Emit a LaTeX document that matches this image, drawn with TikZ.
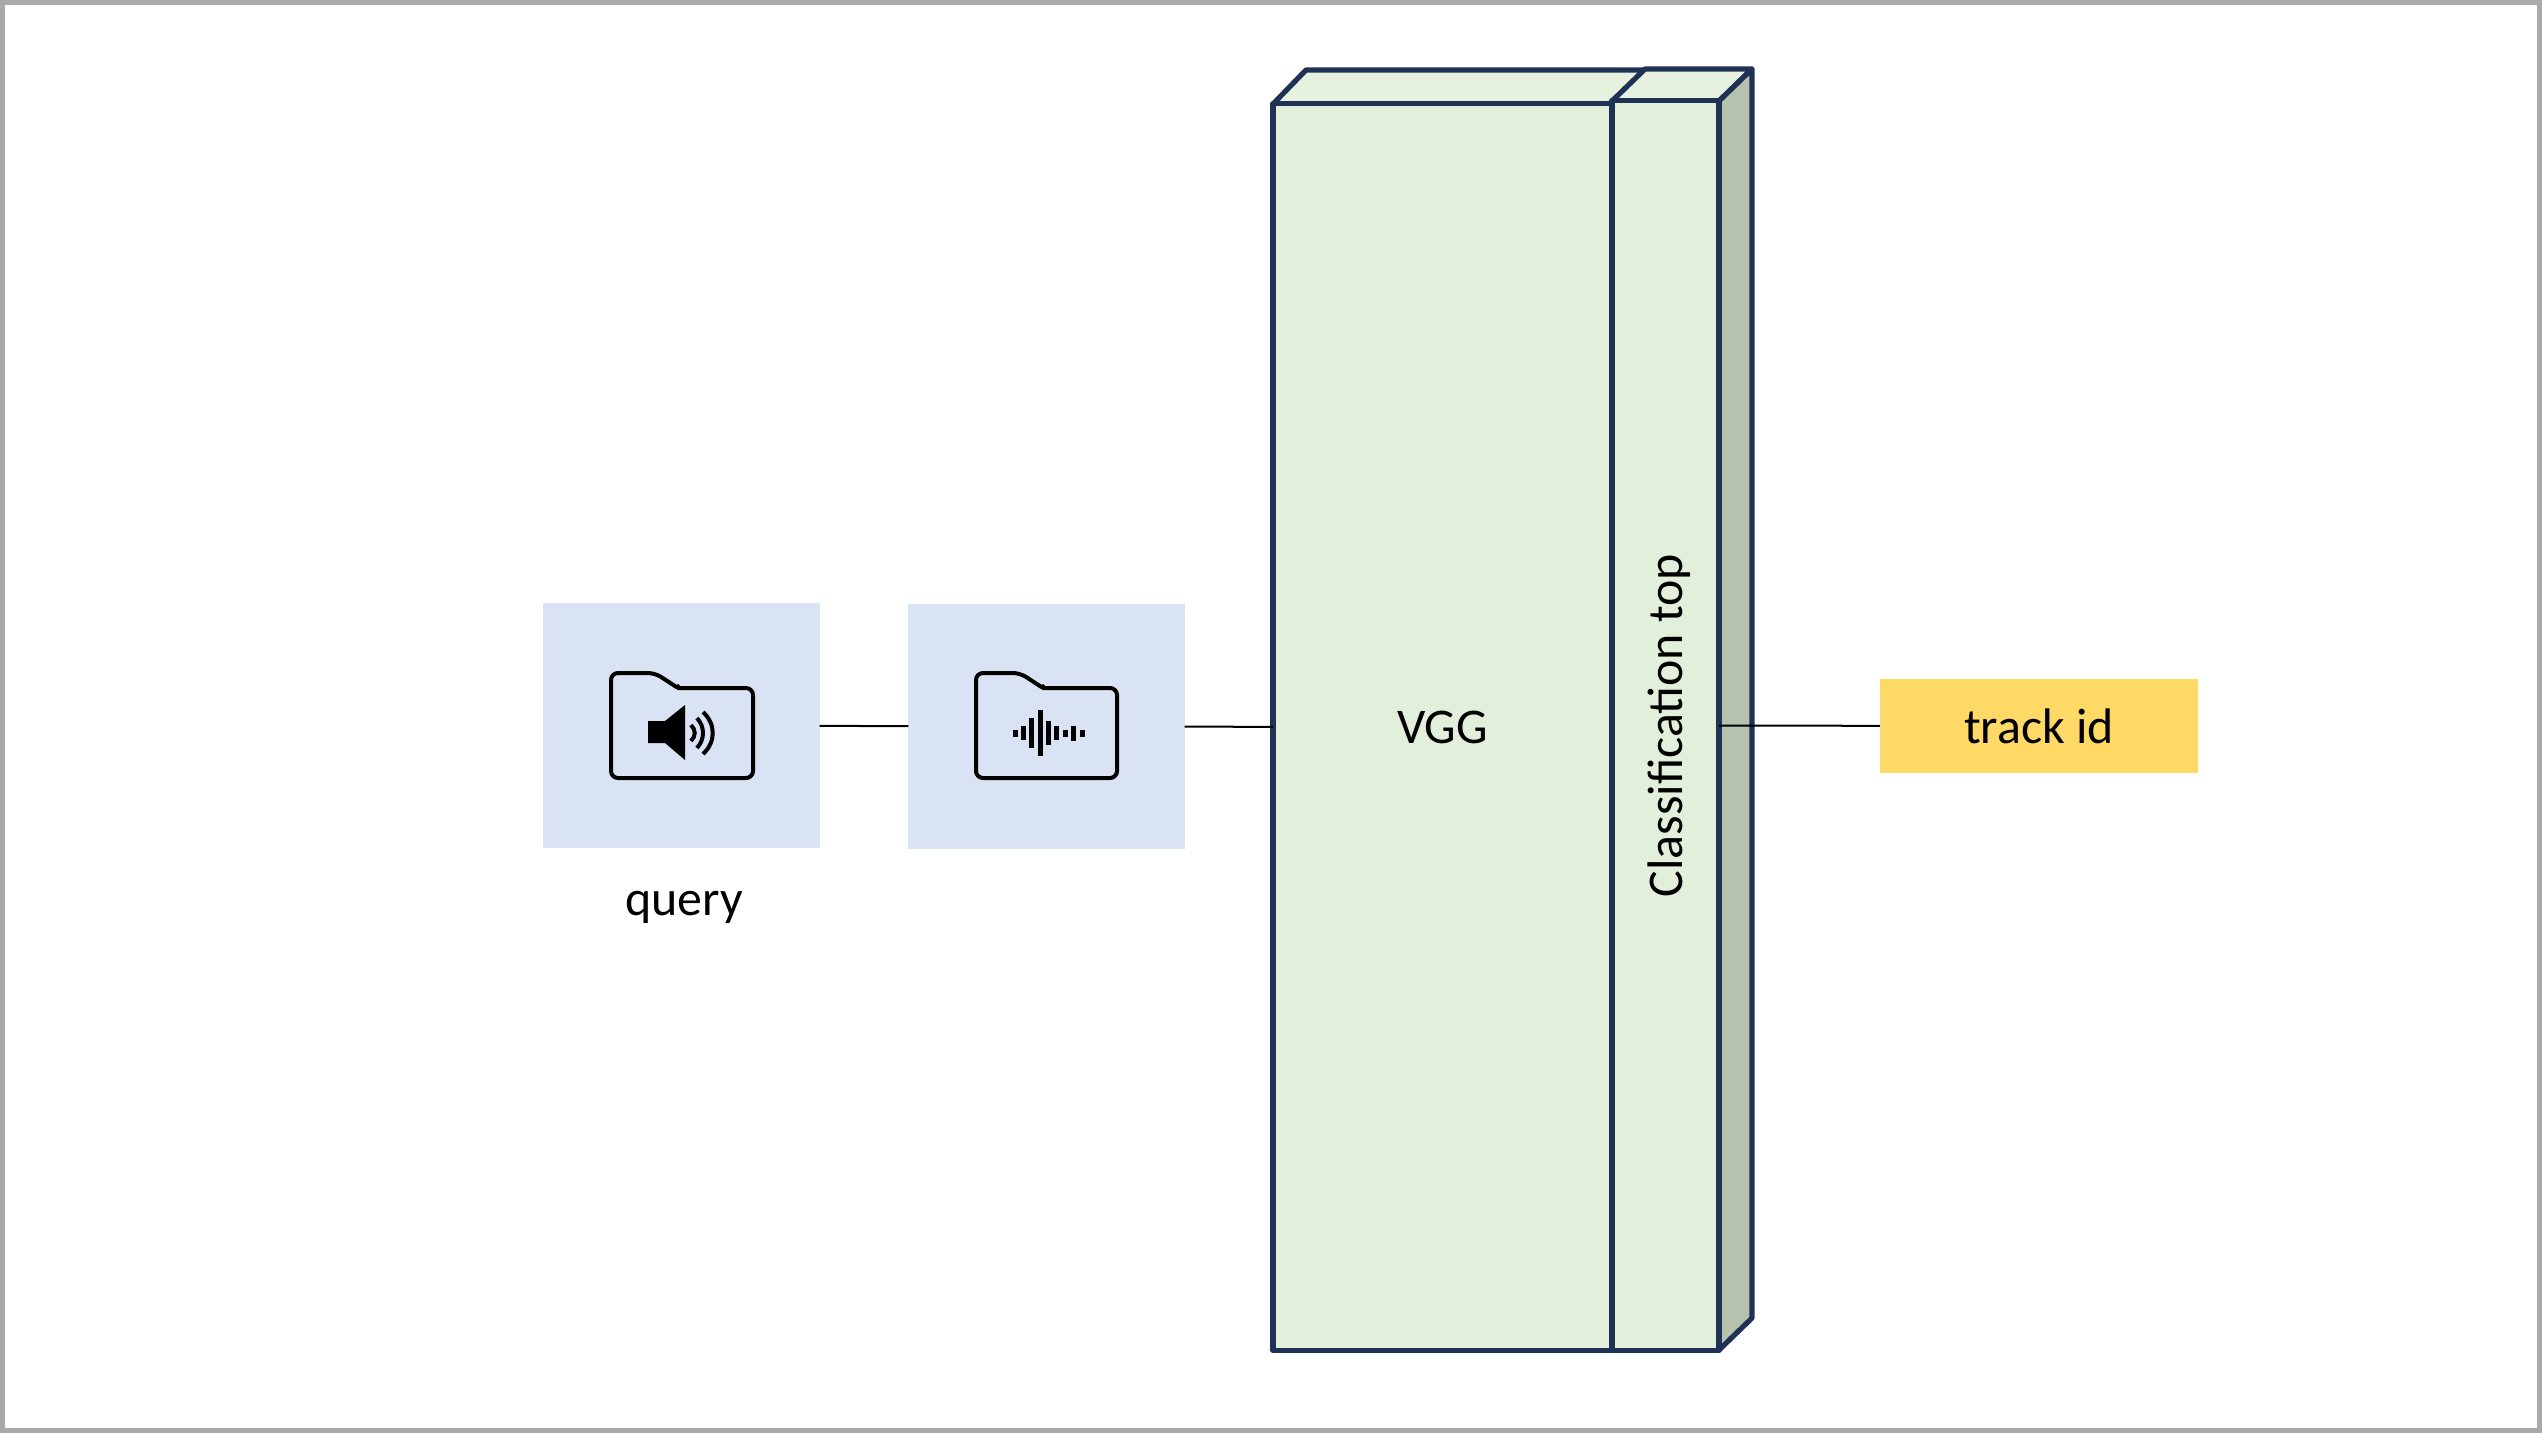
\documentclass[tikz,border=0pt]{standalone}
\usepackage{fontspec}
\setmainfont{Carlito}
\definecolor{boxblue}{HTML}{DAE3F3}
\definecolor{blockgreen}{HTML}{E2EFDA}
\definecolor{blocktop}{HTML}{E7F1DF}
\definecolor{blockside}{HTML}{B6C2AE}
\definecolor{blockline}{HTML}{1F3255}
\definecolor{idyellow}{HTML}{FFD966}
\definecolor{framegrey}{HTML}{A9A9A9}
\tikzset{
	inputbox/.style={fill=boxblue, minimum width=2.76cm, minimum height=2.45cm, inner sep=0pt, outer sep=0pt},
	blockface/.style={draw=blockline, line width=.052cm, line join=round, fill=blockgreen, minimum height=12.46cm, inner sep=0pt, outer sep=0pt},
	blockedge/.style={draw=blockline, line width=.052cm, line join=round},
	idbox/.style={fill=idyellow, minimum width=3.18cm, minimum height=.94cm, inner sep=0pt, outer sep=0pt},
	folder/.style={draw=black, line width=.04cm, line join=round},
	wavebar/.style={draw=black, line width=.05cm},
	soundarc/.style={draw=black, line width=.04cm},
	labeltext/.style={font=\fontsize{14.2}{17}\selectfont, inner sep=0pt},
	link/.style={draw=black, line width=.02cm}
}
\begin{document}
\begin{tikzpicture}[x=.01cm, y=-.01cm]
	\useasboundingbox (0,0) rectangle (2542,1433);
	\draw[framegrey, line width=.05cm] (2.5,2.5) rectangle (2539.5,1430.5);

	\node[inputbox] (query) at (681.5,725.5) {};
	\node[inputbox] (spectro) at (1046.5,726.5) {};
	\node[labeltext] (querylabel) at (684,907) {query};

	\draw[folder] (678,688) [rounded corners=.07cm] -- (753,688) -- (753,778) -- (611,778) -- (611,673) -- (655,673) [rounded corners=.02cm] -- (678,688) [sharp corners] -- cycle;
	\fill[black] (648,721) -- (665,721) -- (685,705) -- (685,760) -- (665,743) -- (648,743) -- cycle;
	\draw[soundarc] (691,725) .. controls (696,730) and (696,736) .. (691,741);
	\draw[soundarc] (697,718) .. controls (705,727) and (705,739) .. (697,748);
	\draw[soundarc] (703,712) .. controls (716,724) and (716,742) .. (703,754);

	\draw[folder] (1043,688) [rounded corners=.07cm] -- (1117,688) -- (1117,778) -- (976,778) -- (976,673) -- (1020,673) [rounded corners=.02cm] -- (1043,688) [sharp corners] -- cycle;
	\draw[wavebar] (1015,729.5) -- (1015,736.5);
	\draw[wavebar] (1023.5,726) -- (1023.5,740);
	\draw[wavebar] (1031.5,718) -- (1031.5,748);
	\draw[wavebar] (1040,710) -- (1040,756);
	\draw[wavebar] (1048.5,721) -- (1048.5,745);
	\draw[wavebar] (1056.5,726) -- (1056.5,740);
	\draw[wavebar] (1065,729.5) -- (1065,736.5);
	\draw[wavebar] (1073.5,725.5) -- (1073.5,740.5);
	\draw[wavebar] (1082,729.5) -- (1082,736.5);

	\draw[blockedge, fill=blocktop] (1273,104) -- (1306,70) -- (1645,70) -- (1612,104) -- cycle;
	\draw[blockedge, fill=blocktop] (1612,101) -- (1645,69) -- (1752,69) -- (1719,101) -- cycle;
	\draw[blockedge, fill=blockside] (1719,101) -- (1752,69) -- (1752,1318) -- (1719,1350) -- cycle;

	\node[blockface, labeltext, inner sep=0pt, minimum width=3.39cm] (vgg) at (1442.5,727) {VGG};
	\node[blockface, labeltext, inner sep=0pt, minimum width=1.07cm, minimum height=12.49cm] (clstop) at (1665.5,725.5) {\rotatebox{90}{\raisebox{-.04cm}[\height][\depth]{Classification top}}};

	\node[idbox, labeltext, inner sep=0pt] (trackid) at (2039,726) {track id};

	\draw[link] (query) -- (spectro);
	\draw[link] (spectro) -- (vgg);
	\draw[link] (clstop) -- (trackid);
\end{tikzpicture}
\end{document}
